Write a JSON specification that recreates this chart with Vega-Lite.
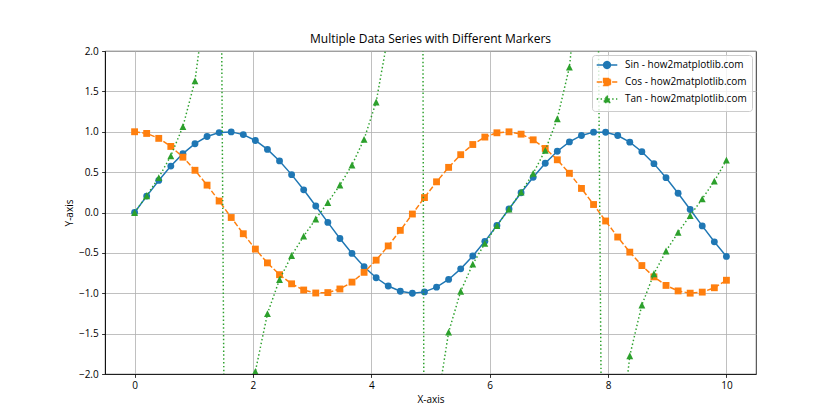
{
  "$schema": "https://vega.github.io/schema/vega-lite/v6.json",
  "width": 651,
  "height": 323,
  "autosize": {"type": "none"},
  "padding": {"left": 105, "top": 51, "right": 84, "bottom": 46},
  "title": {"text": "Multiple Data Series with Different Markers", "fontSize": 12, "fontWeight": "normal", "color": "#000000", "offset": 0},
  "config": {
    "font": "Open Sans",
    "view": {"stroke": "#000000", "strokeWidth": 0.8},
    "axis": {
      "domainColor": "#000000", "domainWidth": 0.8,
      "tickColor": "#000000", "tickSize": 3.4, "tickWidth": 0.8,
      "labelFontSize": 10, "labelColor": "#000000", "labelPadding": 3.4,
      "gridColor": "#b0b0b0", "gridWidth": 0.8,
      "titleFontSize": 10, "titleFontWeight": "normal", "titleColor": "#000000", "titlePadding": 3.9
    },
    "legend": {
      "title": null, "orient": "top-right", "offset": 4, "padding": 5,
      "strokeColor": "#cccccc", "fillColor": "rgba(255,255,255,0.8)", "cornerRadius": 3,
      "labelFontSize": 10, "labelColor": "#000000", "rowPadding": 3,
      "symbolSize": 47, "symbolOffset": 5, "labelOffset": 13, "symbolStrokeWidth": 1.46
    }
  },
  "data": {"values": [
    {"series": "Sin - how2matplotlib.com", "x": 0, "y": 0},
    {"series": "Sin - how2matplotlib.com", "x": 0.2041, "y": 0.203},
    {"series": "Sin - how2matplotlib.com", "x": 0.4082, "y": 0.397},
    {"series": "Sin - how2matplotlib.com", "x": 0.6122, "y": 0.575},
    {"series": "Sin - how2matplotlib.com", "x": 0.8163, "y": 0.729},
    {"series": "Sin - how2matplotlib.com", "x": 1.0204, "y": 0.852},
    {"series": "Sin - how2matplotlib.com", "x": 1.2245, "y": 0.941},
    {"series": "Sin - how2matplotlib.com", "x": 1.4286, "y": 0.990},
    {"series": "Sin - how2matplotlib.com", "x": 1.6327, "y": 0.998},
    {"series": "Sin - how2matplotlib.com", "x": 1.8367, "y": 0.965},
    {"series": "Sin - how2matplotlib.com", "x": 2.0408, "y": 0.892},
    {"series": "Sin - how2matplotlib.com", "x": 2.2449, "y": 0.781},
    {"series": "Sin - how2matplotlib.com", "x": 2.4490, "y": 0.639},
    {"series": "Sin - how2matplotlib.com", "x": 2.6531, "y": 0.469},
    {"series": "Sin - how2matplotlib.com", "x": 2.8571, "y": 0.281},
    {"series": "Sin - how2matplotlib.com", "x": 3.0612, "y": 0.080},
    {"series": "Sin - how2matplotlib.com", "x": 3.2653, "y": -0.123},
    {"series": "Sin - how2matplotlib.com", "x": 3.4694, "y": -0.322},
    {"series": "Sin - how2matplotlib.com", "x": 3.6735, "y": -0.507},
    {"series": "Sin - how2matplotlib.com", "x": 3.8776, "y": -0.671},
    {"series": "Sin - how2matplotlib.com", "x": 4.0816, "y": -0.808},
    {"series": "Sin - how2matplotlib.com", "x": 4.2857, "y": -0.910},
    {"series": "Sin - how2matplotlib.com", "x": 4.4898, "y": -0.975},
    {"series": "Sin - how2matplotlib.com", "x": 4.6939, "y": -1.000},
    {"series": "Sin - how2matplotlib.com", "x": 4.8980, "y": -0.983},
    {"series": "Sin - how2matplotlib.com", "x": 5.1020, "y": -0.925},
    {"series": "Sin - how2matplotlib.com", "x": 5.3061, "y": -0.829},
    {"series": "Sin - how2matplotlib.com", "x": 5.5102, "y": -0.698},
    {"series": "Sin - how2matplotlib.com", "x": 5.7143, "y": -0.539},
    {"series": "Sin - how2matplotlib.com", "x": 5.9184, "y": -0.357},
    {"series": "Sin - how2matplotlib.com", "x": 6.1224, "y": -0.160},
    {"series": "Sin - how2matplotlib.com", "x": 6.3265, "y": 0.043},
    {"series": "Sin - how2matplotlib.com", "x": 6.5306, "y": 0.245},
    {"series": "Sin - how2matplotlib.com", "x": 6.7347, "y": 0.436},
    {"series": "Sin - how2matplotlib.com", "x": 6.9388, "y": 0.610},
    {"series": "Sin - how2matplotlib.com", "x": 7.1429, "y": 0.758},
    {"series": "Sin - how2matplotlib.com", "x": 7.3469, "y": 0.874},
    {"series": "Sin - how2matplotlib.com", "x": 7.5510, "y": 0.954},
    {"series": "Sin - how2matplotlib.com", "x": 7.7551, "y": 0.995},
    {"series": "Sin - how2matplotlib.com", "x": 7.9592, "y": 0.994},
    {"series": "Sin - how2matplotlib.com", "x": 8.1633, "y": 0.953},
    {"series": "Sin - how2matplotlib.com", "x": 8.3673, "y": 0.871},
    {"series": "Sin - how2matplotlib.com", "x": 8.5714, "y": 0.753},
    {"series": "Sin - how2matplotlib.com", "x": 8.7755, "y": 0.605},
    {"series": "Sin - how2matplotlib.com", "x": 8.9796, "y": 0.431},
    {"series": "Sin - how2matplotlib.com", "x": 9.1837, "y": 0.239},
    {"series": "Sin - how2matplotlib.com", "x": 9.3878, "y": 0.037},
    {"series": "Sin - how2matplotlib.com", "x": 9.5918, "y": -0.166},
    {"series": "Sin - how2matplotlib.com", "x": 9.7959, "y": -0.363},
    {"series": "Sin - how2matplotlib.com", "x": 10, "y": -0.544},
    {"series": "Cos - how2matplotlib.com", "x": 0, "y": 1},
    {"series": "Cos - how2matplotlib.com", "x": 0.2041, "y": 0.979},
    {"series": "Cos - how2matplotlib.com", "x": 0.4082, "y": 0.918},
    {"series": "Cos - how2matplotlib.com", "x": 0.6122, "y": 0.818},
    {"series": "Cos - how2matplotlib.com", "x": 0.8163, "y": 0.685},
    {"series": "Cos - how2matplotlib.com", "x": 1.0204, "y": 0.523},
    {"series": "Cos - how2matplotlib.com", "x": 1.2245, "y": 0.339},
    {"series": "Cos - how2matplotlib.com", "x": 1.4286, "y": 0.142},
    {"series": "Cos - how2matplotlib.com", "x": 1.6327, "y": -0.062},
    {"series": "Cos - how2matplotlib.com", "x": 1.8367, "y": -0.263},
    {"series": "Cos - how2matplotlib.com", "x": 2.0408, "y": -0.453},
    {"series": "Cos - how2matplotlib.com", "x": 2.2449, "y": -0.624},
    {"series": "Cos - how2matplotlib.com", "x": 2.4490, "y": -0.770},
    {"series": "Cos - how2matplotlib.com", "x": 2.6531, "y": -0.883},
    {"series": "Cos - how2matplotlib.com", "x": 2.8571, "y": -0.960},
    {"series": "Cos - how2matplotlib.com", "x": 3.0612, "y": -0.997},
    {"series": "Cos - how2matplotlib.com", "x": 3.2653, "y": -0.992},
    {"series": "Cos - how2matplotlib.com", "x": 3.4694, "y": -0.947},
    {"series": "Cos - how2matplotlib.com", "x": 3.6735, "y": -0.862},
    {"series": "Cos - how2matplotlib.com", "x": 3.8776, "y": -0.741},
    {"series": "Cos - how2matplotlib.com", "x": 4.0816, "y": -0.590},
    {"series": "Cos - how2matplotlib.com", "x": 4.2857, "y": -0.414},
    {"series": "Cos - how2matplotlib.com", "x": 4.4898, "y": -0.221},
    {"series": "Cos - how2matplotlib.com", "x": 4.6939, "y": -0.019},
    {"series": "Cos - how2matplotlib.com", "x": 4.8980, "y": 0.185},
    {"series": "Cos - how2matplotlib.com", "x": 5.1020, "y": 0.380},
    {"series": "Cos - how2matplotlib.com", "x": 5.3061, "y": 0.559},
    {"series": "Cos - how2matplotlib.com", "x": 5.5102, "y": 0.716},
    {"series": "Cos - how2matplotlib.com", "x": 5.7143, "y": 0.842},
    {"series": "Cos - how2matplotlib.com", "x": 5.9184, "y": 0.934},
    {"series": "Cos - how2matplotlib.com", "x": 6.1224, "y": 0.987},
    {"series": "Cos - how2matplotlib.com", "x": 6.3265, "y": 0.999},
    {"series": "Cos - how2matplotlib.com", "x": 6.5306, "y": 0.970},
    {"series": "Cos - how2matplotlib.com", "x": 6.7347, "y": 0.900},
    {"series": "Cos - how2matplotlib.com", "x": 6.9388, "y": 0.793},
    {"series": "Cos - how2matplotlib.com", "x": 7.1429, "y": 0.653},
    {"series": "Cos - how2matplotlib.com", "x": 7.3469, "y": 0.486},
    {"series": "Cos - how2matplotlib.com", "x": 7.5510, "y": 0.298},
    {"series": "Cos - how2matplotlib.com", "x": 7.7551, "y": 0.099},
    {"series": "Cos - how2matplotlib.com", "x": 7.9592, "y": -0.105},
    {"series": "Cos - how2matplotlib.com", "x": 8.1633, "y": -0.304},
    {"series": "Cos - how2matplotlib.com", "x": 8.3673, "y": -0.491},
    {"series": "Cos - how2matplotlib.com", "x": 8.5714, "y": -0.657},
    {"series": "Cos - how2matplotlib.com", "x": 8.7755, "y": -0.797},
    {"series": "Cos - how2matplotlib.com", "x": 8.9796, "y": -0.903},
    {"series": "Cos - how2matplotlib.com", "x": 9.1837, "y": -0.971},
    {"series": "Cos - how2matplotlib.com", "x": 9.3878, "y": -0.999},
    {"series": "Cos - how2matplotlib.com", "x": 9.5918, "y": -0.986},
    {"series": "Cos - how2matplotlib.com", "x": 9.7959, "y": -0.932},
    {"series": "Cos - how2matplotlib.com", "x": 10, "y": -0.839},
    {"series": "Tan - how2matplotlib.com", "x": 0, "y": 0},
    {"series": "Tan - how2matplotlib.com", "x": 0.2041, "y": 0.207},
    {"series": "Tan - how2matplotlib.com", "x": 0.4082, "y": 0.432},
    {"series": "Tan - how2matplotlib.com", "x": 0.6122, "y": 0.702},
    {"series": "Tan - how2matplotlib.com", "x": 0.8163, "y": 1.064},
    {"series": "Tan - how2matplotlib.com", "x": 1.0204, "y": 1.630},
    {"series": "Tan - how2matplotlib.com", "x": 1.2245, "y": 2.771},
    {"series": "Tan - how2matplotlib.com", "x": 1.4286, "y": 6.984},
    {"series": "Tan - how2matplotlib.com", "x": 1.6327, "y": -16.146},
    {"series": "Tan - how2matplotlib.com", "x": 1.8367, "y": -3.671},
    {"series": "Tan - how2matplotlib.com", "x": 2.0408, "y": -1.969},
    {"series": "Tan - how2matplotlib.com", "x": 2.2449, "y": -1.252},
    {"series": "Tan - how2matplotlib.com", "x": 2.4490, "y": -0.830},
    {"series": "Tan - how2matplotlib.com", "x": 2.6531, "y": -0.532},
    {"series": "Tan - how2matplotlib.com", "x": 2.8571, "y": -0.292},
    {"series": "Tan - how2matplotlib.com", "x": 3.0612, "y": -0.081},
    {"series": "Tan - how2matplotlib.com", "x": 3.2653, "y": 0.124},
    {"series": "Tan - how2matplotlib.com", "x": 3.4694, "y": 0.340},
    {"series": "Tan - how2matplotlib.com", "x": 3.6735, "y": 0.588},
    {"series": "Tan - how2matplotlib.com", "x": 3.8776, "y": 0.906},
    {"series": "Tan - how2matplotlib.com", "x": 4.0816, "y": 1.369},
    {"series": "Tan - how2matplotlib.com", "x": 4.2857, "y": 2.200},
    {"series": "Tan - how2matplotlib.com", "x": 4.4898, "y": 4.418},
    {"series": "Tan - how2matplotlib.com", "x": 4.6939, "y": 54.02},
    {"series": "Tan - how2matplotlib.com", "x": 4.8980, "y": -5.327},
    {"series": "Tan - how2matplotlib.com", "x": 5.1020, "y": -2.435},
    {"series": "Tan - how2matplotlib.com", "x": 5.3061, "y": -1.482},
    {"series": "Tan - how2matplotlib.com", "x": 5.5102, "y": -0.975},
    {"series": "Tan - how2matplotlib.com", "x": 5.7143, "y": -0.639},
    {"series": "Tan - how2matplotlib.com", "x": 5.9184, "y": -0.382},
    {"series": "Tan - how2matplotlib.com", "x": 6.1224, "y": -0.162},
    {"series": "Tan - how2matplotlib.com", "x": 6.3265, "y": 0.043},
    {"series": "Tan - how2matplotlib.com", "x": 6.5306, "y": 0.253},
    {"series": "Tan - how2matplotlib.com", "x": 6.7347, "y": 0.485},
    {"series": "Tan - how2matplotlib.com", "x": 6.9388, "y": 0.769},
    {"series": "Tan - how2matplotlib.com", "x": 7.1429, "y": 1.161},
    {"series": "Tan - how2matplotlib.com", "x": 7.3469, "y": 1.800},
    {"series": "Tan - how2matplotlib.com", "x": 7.5510, "y": 3.199},
    {"series": "Tan - how2matplotlib.com", "x": 7.7551, "y": 10.080},
    {"series": "Tan - how2matplotlib.com", "x": 7.9592, "y": -9.470},
    {"series": "Tan - how2matplotlib.com", "x": 8.1633, "y": -3.130},
    {"series": "Tan - how2matplotlib.com", "x": 8.3673, "y": -1.774},
    {"series": "Tan - how2matplotlib.com", "x": 8.5714, "y": -1.146},
    {"series": "Tan - how2matplotlib.com", "x": 8.7755, "y": -0.759},
    {"series": "Tan - how2matplotlib.com", "x": 8.9796, "y": -0.477},
    {"series": "Tan - how2matplotlib.com", "x": 9.1837, "y": -0.246},
    {"series": "Tan - how2matplotlib.com", "x": 9.3878, "y": -0.037},
    {"series": "Tan - how2matplotlib.com", "x": 9.5918, "y": 0.169},
    {"series": "Tan - how2matplotlib.com", "x": 9.7959, "y": 0.389},
    {"series": "Tan - how2matplotlib.com", "x": 10, "y": 0.648}
  ]},
  "encoding": {
    "x": {"field": "x", "type": "quantitative", "scale": {"domain": [-0.5, 10.5], "nice": false, "zero": false},
          "axis": {"title": "X-axis", "values": [0, 2, 4, 6, 8, 10], "format": "d"}},
    "y": {"field": "y", "type": "quantitative", "scale": {"domain": [-2, 2], "nice": false, "zero": false},
          "axis": {"title": "Y-axis", "values": [-2, -1.5, -1, -0.5, 0, 0.5, 1, 1.5, 2], "format": ".1f"}}
  },
  "layer": [
    {
      "transform": [{"filter": "datum.series === 'Sin - how2matplotlib.com'"}],
      "layer": [
        {
          "mark": {"type": "line", "clip": true, "strokeWidth": 1.46, "color": "#1f77b4"},
          "encoding": {
            "opacity": {"field": "series", "type": "nominal",
              "scale": {"domain": ["Sin - how2matplotlib.com", "Cos - how2matplotlib.com", "Tan - how2matplotlib.com"], "range": [1, 1, 1]},
              "legend": {
                "encoding": {"symbols": {
                  "shape": {"value": {"expr": "datum.value === 'Sin - how2matplotlib.com' ? 'M-3,0H3M1,0A1,1,0,1,1,-1,0A1,1,0,1,1,1,0Z' : datum.value === 'Cos - how2matplotlib.com' ? 'M-3,0H3M-1,-1H1V1H-1Z' : 'M-3,0H3M0,-1L1,1H-1Z'"}},
                  "strokeDash": {"value": {"expr": "datum.value === 'Cos - how2matplotlib.com' ? [5.4, 2.3] : datum.value === 'Tan - how2matplotlib.com' ? [1.46, 2.4] : [1, 0]"}},
                  "stroke": {"value": {"expr": "datum.value === 'Sin - how2matplotlib.com' ? '#1f77b4' : datum.value === 'Cos - how2matplotlib.com' ? '#ff7f0e' : '#2ca02c'"}},
                  "fill": {"value": {"expr": "datum.value === 'Sin - how2matplotlib.com' ? '#1f77b4' : datum.value === 'Cos - how2matplotlib.com' ? '#ff7f0e' : '#2ca02c'"}},
                  "strokeWidth": {"value": 1.46}
                }}
              }}
          }
        },
        {"mark": {"type": "point", "clip": true, "filled": true, "opacity": 1, "size": 47, "shape": "circle", "color": "#1f77b4"}}
      ]
    },
    {
      "transform": [{"filter": "datum.series === 'Cos - how2matplotlib.com'"}],
      "layer": [
        {"mark": {"type": "line", "clip": true, "strokeWidth": 1.46, "color": "#ff7f0e", "strokeDash": [5.4, 2.3]}},
        {"mark": {"type": "point", "clip": true, "filled": true, "opacity": 1, "size": 47, "shape": "square", "color": "#ff7f0e"}}
      ]
    },
    {
      "transform": [{"filter": "datum.series === 'Tan - how2matplotlib.com'"}],
      "layer": [
        {"mark": {"type": "line", "clip": true, "strokeWidth": 1.46, "color": "#2ca02c", "strokeDash": [1.46, 2.4]}},
        {"mark": {"type": "point", "clip": true, "filled": true, "opacity": 1, "size": 47, "shape": "M0,-1L1,1H-1Z", "color": "#2ca02c"}}
      ]
    }
  ]
}
